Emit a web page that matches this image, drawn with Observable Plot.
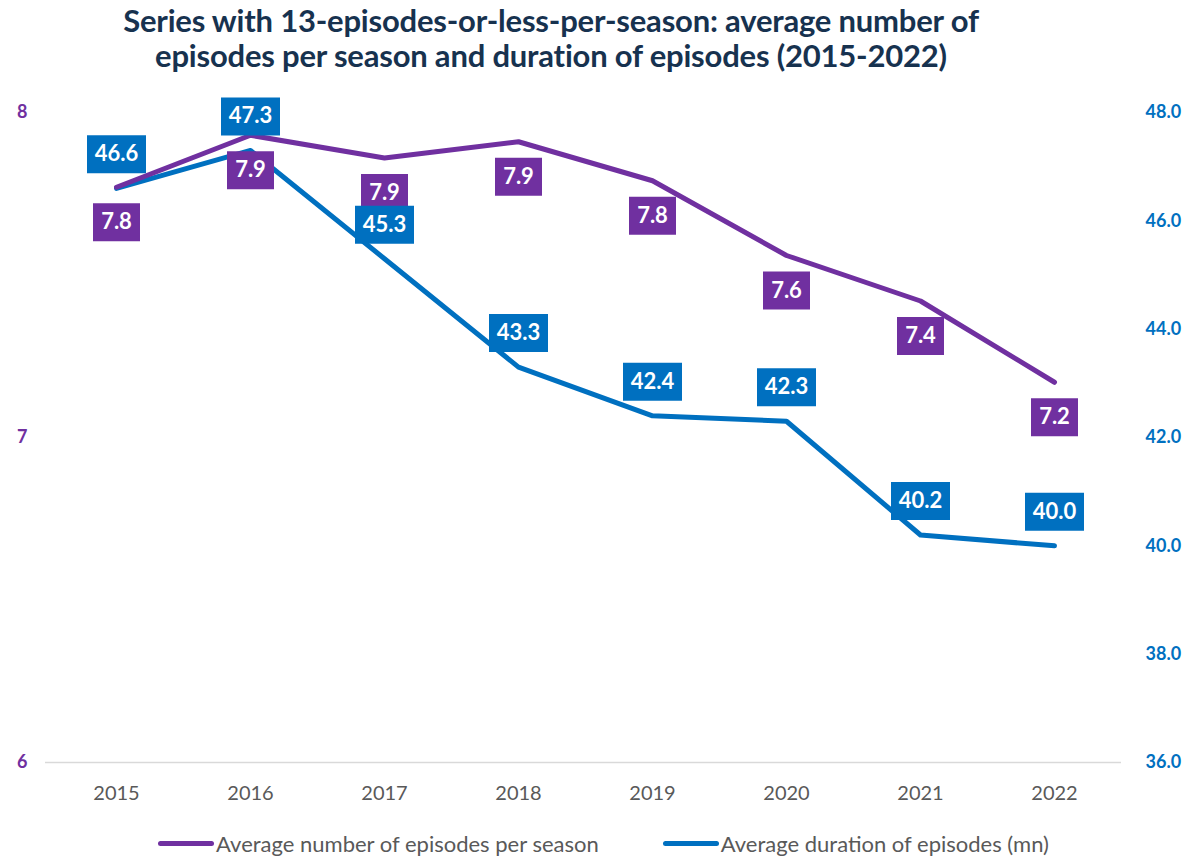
<!DOCTYPE html>
<html>
<head>
<meta charset="utf-8">
<script src="https://cdn.jsdelivr.net/npm/d3@7"></script>
<script src="https://cdn.jsdelivr.net/npm/@observablehq/plot@0.6"></script>
<style>
  body { margin: 0; background: #fff; font-family: Lato, "Open Sans", sans-serif; }
  #wrap { width: 1191px; height: 858px; position: relative; }
  #title { width: 1102px; height: 90px; text-align: center; color: #17324f; font-weight: 700; font-size: 31px; line-height: 35px; padding-top: 3px; box-sizing: border-box; letter-spacing: -0.2px; }
  #legend { display: flex; justify-content: center; gap: 64px; font-size: 22px; color: #595959; margin-top: 18px; padding-left: 16px; }
  .item { display: flex; align-items: center; }
  .sw { width: 56px; height: 5px; border-radius: 3px; margin-right: 2px; }
</style>
</head>
<body>
<div id="wrap">
  <div id="title">Series with 13-episodes-or-less-per-season: average number of<br>episodes per season and duration of episodes (2015-2022)</div>
  <div id="chart"></div>
  <div id="legend"></div>
</div>
<script>
const years = [2015, 2016, 2017, 2018, 2019, 2020, 2021, 2022];
const episodes = [7.77, 7.93, 7.86, 7.91, 7.79, 7.56, 7.42, 7.17];
const duration = [46.6, 47.3, 45.3, 43.3, 42.4, 42.3, 40.2, 40.0];
const leftTicks = [6, 7, 8];
const rightTicks = [36, 38, 40, 42, 44, 46, 48];
const seriesNames = ["Average number of episodes per season", "Average duration of episodes (mn)"];

const purple = "#7030a0";
const blue = "#0070c0";

// map right-axis (duration) values onto the left scale
const toLeft = v => 6 + (v - 36) / 6;
const fromLeft = v => (v - 6) * 6 + 36;

const epData = years.map((y, i) => ({year: y, v: episodes[i]}));
const duData = years.map((y, i) => ({year: y, v: duration[i], yv: toLeft(duration[i])}));

const boxSymbol = (w, h) => ({draw(ctx) { ctx.rect(-w / 2, -h / 2, w, h); }});

const chart = Plot.plot({
  width: 1191,
  height: 722,
  marginLeft: 49,
  marginRight: 70,
  marginTop: 22,
  marginBottom: 50,
  style: {fontFamily: "Lato, 'Open Sans', sans-serif", background: "#fff"},
  x: {type: "point", domain: years, padding: 0.5},
  y: {domain: [6, 8]},
  marks: [
    Plot.ruleY([6], {stroke: "#d9d9d9", strokeWidth: 1.5, insetLeft: -4}),
    Plot.axisX({tickSize: 0, tickPadding: 23, fontSize: 20, color: "#595959", tickFormat: d => String(d), label: null}),
    Plot.axisY(leftTicks, {anchor: "left", tickSize: 0, tickPadding: 22, fontSize: 18, fontWeight: 700, fill: purple, label: null, tickFormat: d => String(d)}),
    Plot.axisY(rightTicks.map(toLeft), {anchor: "right", tickSize: 0, tickPadding: 24, fontSize: 18, fontWeight: 700, fill: blue, label: null, tickFormat: d => fromLeft(d).toFixed(1)}),
    Plot.line(duData, {x: "year", y: "yv", stroke: blue, strokeWidth: 5, strokeLinecap: "round", strokeLinejoin: "round"}),
    Plot.line(epData, {x: "year", y: "v", stroke: purple, strokeWidth: 5, strokeLinecap: "round", strokeLinejoin: "round"}),
    Plot.dot(epData, {x: "year", y: "v", dy: 35, symbol: boxSymbol(47, 38), fill: purple, stroke: null}),
    Plot.text(epData, {x: "year", y: "v", dy: 35, text: d => d.v.toFixed(1), fill: "#fff", fontSize: 22, fontWeight: 700}),
    Plot.dot(duData, {x: "year", y: "yv", dy: -34, symbol: boxSymbol(59, 38), fill: blue, stroke: null}),
    Plot.text(duData, {x: "year", y: "yv", dy: -34, text: d => d.v.toFixed(1), fill: "#fff", fontSize: 22, fontWeight: 700})
  ]
});
document.getElementById("chart").appendChild(chart);

const legend = document.getElementById("legend");
[[seriesNames[0], purple], [seriesNames[1], blue]].forEach(([name, col]) => {
  const it = document.createElement("div");
  it.className = "item";
  it.innerHTML = `<span class="sw" style="background:${col}"></span><span>${name}</span>`;
  legend.appendChild(it);
});
</script>
</body>
</html>
